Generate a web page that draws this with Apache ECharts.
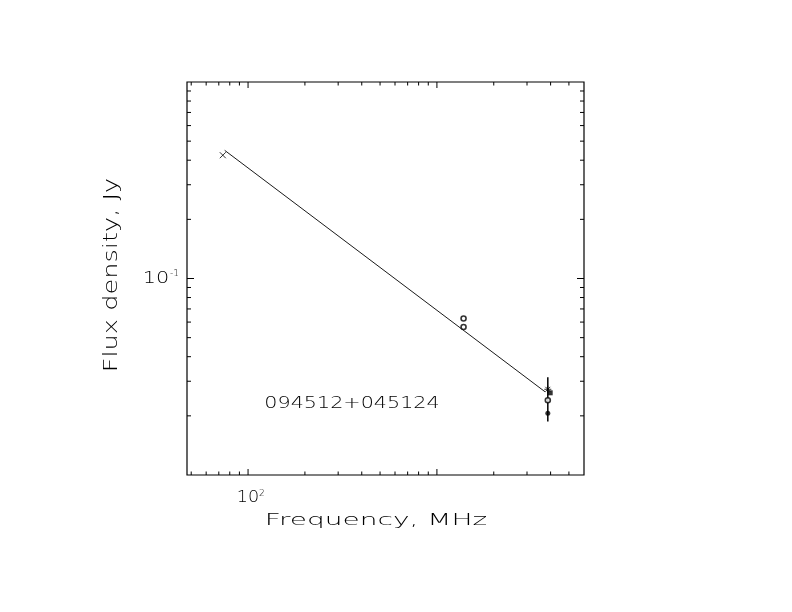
<!DOCTYPE html>
<html>
<head>
<meta charset="utf-8">
<script src="https://cdn.jsdelivr.net/npm/echarts@6/dist/echarts.min.js"></script>
<style>
html,body{margin:0;padding:0;background:#ffffff;}
#chart{width:792px;height:612px;}
</style>
</head>
<body>
<div id="chart"></div>
<script>
// ---- data ----
const sourceName = '094512+045124';
const xTitle = 'Frequency, MHz';
const yTitle = 'Flux density, Jy';

const xRange = [47.5, 6010];     // MHz
const yRange = [0.01, 1];        // Jy

const crossPoints      = [[73.5, 0.424]];
const openCirclePoints = [[1384, 0.0626], [1384, 0.0566], [3866, 0.0240]];
const filledDotPoints  = [[3866, 0.0206]];
const starPoints       = [[3866, 0.0273]];
const squarePoints     = [[3980, 0.0262]];
const errorBars        = [[3866, 0.0187, 0.0314]];   // [freq, low, high]
const fitLine          = [[75.2, 0.449], [3741, 0.0265]];

const xMajorTicks = [100, 1000];
const xMinorTicks = [50, 60, 70, 80, 90, 200, 300, 400, 500, 600, 700, 800, 900, 2000, 3000, 4000, 5000];
const yMajorTicks = [0.1];
const yMinorTicks = [0.02, 0.03, 0.04, 0.05, 0.06, 0.07, 0.08, 0.09, 0.2, 0.3, 0.4, 0.5, 0.6, 0.7, 0.8, 0.9];
const xTickLabels = [[100, '10', '2']];
const yTickLabels = [[0.1, '10', '-1']];

// ---- chart ----
const FONT = '"DejaVu Sans", "Liberation Sans", sans-serif';
const chart = echarts.init(document.getElementById('chart'), null, {renderer: 'canvas'});

const xTickData = xMajorTicks.map(v => [v, yRange[0], 1]).concat(xMinorTicks.map(v => [v, yRange[0], 0]));
const yTickData = yMajorTicks.map(v => [xRange[0], v, 1]).concat(yMinorTicks.map(v => [xRange[0], v, 0]));

function line(x1, y1, x2, y2, w) {
  return {type: 'line', shape: {x1, y1, x2, y2}, style: {stroke: '#000', lineWidth: w || 1}};
}

const option = {
  animation: false,
  backgroundColor: '#ffffff',
  grid: {left: 187, top: 82, width: 397, height: 393, show: true, borderColor: '#000', borderWidth: 1.2, backgroundColor: 'transparent'},
  xAxis: {type: 'log', logBase: 10, min: xRange[0], max: xRange[1],
    axisLine: {show: false}, axisTick: {show: false}, axisLabel: {show: false}, splitLine: {show: false}},
  yAxis: {type: 'log', logBase: 10, min: yRange[0], max: yRange[1],
    axisLine: {show: false}, axisTick: {show: false}, axisLabel: {show: false}, splitLine: {show: false}},
  graphic: [
    {type: 'text', x: 376, y: 521, scaleX: 1.75,
      style: {text: xTitle, font: '200 16px ' + FONT, fill: '#000', align: 'center', verticalAlign: 'middle', textAlign: 'center', textVerticalAlign: 'middle'}},
    {type: 'text', x: 112, y: 275, rotation: Math.PI / 2, scaleX: 1.35,
      style: {text: yTitle, font: '200 19px ' + FONT, fill: '#000', align: 'center', verticalAlign: 'middle', textAlign: 'center', textVerticalAlign: 'middle'}},
    {type: 'text', x: 352, y: 404, scaleX: 1.38,
      style: {text: sourceName, font: '200 15px ' + FONT, fill: '#000', align: 'center', verticalAlign: 'middle', textAlign: 'center', textVerticalAlign: 'middle'}}
  ],
  series: [
    {
      name: 'xticks', type: 'custom', data: xTickData, encode: {x: 0, y: 1}, silent: true, z: 1,
      renderItem: function (params, api) {
        const cs = params.coordSys;
        const px = api.coord([api.value(0), yRange[0]])[0];
        const L = api.value(2) ? 6 : 3.5;
        return {type: 'group', children: [
          line(px, cs.y + cs.height, px, cs.y + cs.height - L),
          line(px, cs.y, px, cs.y + L)
        ]};
      }
    },
    {
      name: 'yticks', type: 'custom', data: yTickData, encode: {x: 0, y: 1}, silent: true, z: 1,
      renderItem: function (params, api) {
        const cs = params.coordSys;
        const py = api.coord([xRange[0], api.value(1)])[1];
        const L = api.value(2) ? 7 : 4;
        return {type: 'group', children: [
          line(cs.x, py, cs.x + L, py),
          line(cs.x + cs.width, py, cs.x + cs.width - L, py)
        ]};
      }
    },
    {
      name: 'xlabels', type: 'custom', data: xTickLabels.map(d => [d[0], yRange[0]]), encode: {x: 0, y: 1}, silent: true,
      renderItem: function (params, api) {
        const cs = params.coordSys;
        const i = params.dataIndex;
        const px = api.coord([api.value(0), yRange[0]])[0];
        const py = cs.y + cs.height + 23;
        return {type: 'group', children: [
          {type: 'text', x: px, y: py, scaleX: 1.1, style: {text: xTickLabels[i][1], font: '200 16px ' + FONT, fill: '#000', align: 'center', verticalAlign: 'middle'}},
          {type: 'text', x: px + 11, y: py - 4, style: {text: xTickLabels[i][2], font: '200 9px ' + FONT, fill: '#000', align: 'left', verticalAlign: 'middle'}}
        ]};
      }
    },
    {
      name: 'ylabels', type: 'custom', data: yTickLabels.map(d => [xRange[0], d[0]]), encode: {x: 0, y: 1}, silent: true,
      renderItem: function (params, api) {
        const cs = params.coordSys;
        const i = params.dataIndex;
        const py = api.coord([xRange[0], api.value(1)])[1];
        const px = cs.x - 31;
        return {type: 'group', children: [
          {type: 'text', x: px, y: py, scaleX: 1.3, style: {text: yTickLabels[i][1], font: '200 16px ' + FONT, fill: '#000', align: 'center', verticalAlign: 'middle'}},
          {type: 'text', x: px + 14, y: py - 5, style: {text: yTickLabels[i][2], font: '200 9px ' + FONT, fill: '#000', align: 'left', verticalAlign: 'middle'}}
        ]};
      }
    },
    {
      name: 'fit', type: 'line', data: fitLine, symbol: 'none', z: 2,
      lineStyle: {color: '#000', width: 0.9}
    },
    {
      name: 'errors', type: 'custom', data: errorBars, encode: {x: 0, y: [1, 2]}, z: 3,
      renderItem: function (params, api) {
        const lo = api.coord([api.value(0), api.value(1)]);
        const hi = api.coord([api.value(0), api.value(2)]);
        return line(lo[0], lo[1], hi[0], hi[1], 1.5);
      }
    },
    {
      name: 'cross', type: 'scatter', data: crossPoints, z: 4,
      symbol: 'path://M0,0L10,10M10,0L0,10', symbolSize: 6,
      itemStyle: {color: 'none', borderColor: '#000', borderWidth: 1}
    },
    {
      name: 'open', type: 'scatter', data: openCirclePoints, z: 4,
      symbol: 'circle', symbolSize: 5,
      itemStyle: {color: '#fff', borderColor: '#000', borderWidth: 1.6}
    },
    {
      name: 'filled', type: 'scatter', data: filledDotPoints, z: 4,
      symbol: 'circle', symbolSize: 5, itemStyle: {color: '#000'}
    },
    {
      name: 'star', type: 'scatter', data: starPoints, z: 4,
      symbol: 'path://M5,0L5,10M0,5L10,5M1.5,1.5L8.5,8.5M8.5,1.5L1.5,8.5', symbolSize: 7,
      itemStyle: {color: 'none', borderColor: '#000', borderWidth: 1}
    },
    {
      name: 'square', type: 'scatter', data: squarePoints, z: 4,
      symbol: 'rect', symbolSize: 5, itemStyle: {color: '#000'}
    }
  ]
};
chart.setOption(option);
</script>
</body>
</html>
